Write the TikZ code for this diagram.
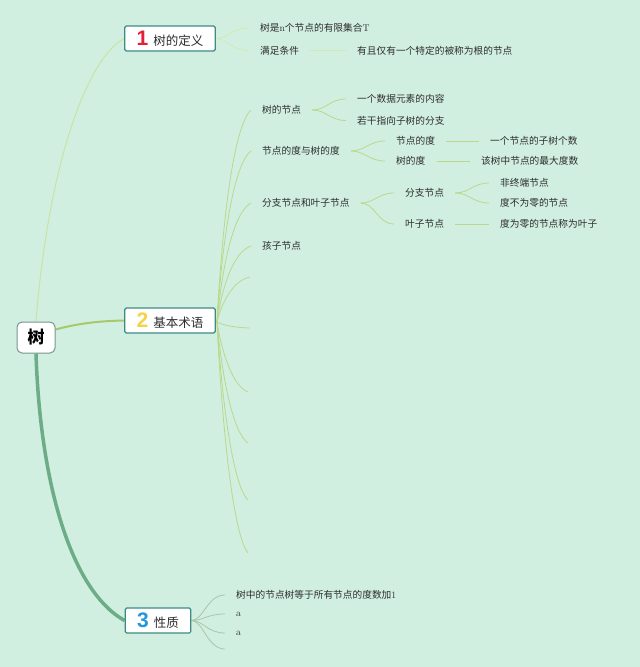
\documentclass[tikz,border=0pt]{standalone}
\usepackage{fontspec}
\newfontfamily\cjk{Noto Sans CJK SC}
\newfontfamily\numf{Liberation Sans}
\usetikzlibrary{backgrounds}
\definecolor{bg}{RGB}{209,239,225}
\definecolor{txt}{RGB}{45,45,45}
\definecolor{boxline}{RGB}{61,139,133}
\definecolor{rootline}{RGB}{120,150,140}
\definecolor{cone}{RGB}{226,32,56}
\definecolor{ctwo}{RGB}{244,212,70}
\definecolor{cthree}{RGB}{38,150,220}
\definecolor{lone}{RGB}{200,228,160}
\definecolor{ltwo}{RGB}{168,200,108}
\definecolor{lthree}{RGB}{108,172,134}
\definecolor{bone}{RGB}{210,234,178}
\definecolor{btwo}{RGB}{185,216,138}
\definecolor{bthree}{RGB}{168,198,168}
\newcommand\latn[1]{{\rmfamily #1}}
\newcommand\bignum[2]{{\numf\bfseries\fontsize{21}{21}\selectfont\color{#1}#2}\hspace{5pt}}
\newcommand\ttl[1]{{\cjk\fontsize{12.5}{14}\selectfont #1}}
\begin{document}
\begin{tikzpicture}[x=1pt,y=-1pt,
  rootbox/.style={draw=rootline, line width=1pt, fill=white, rounded corners=5pt,
    minimum width=38pt, minimum height=31pt, inner sep=0pt,
    font=\cjk\bfseries\fontsize{17}{18}\selectfont, text=black},
  titlebox/.style={draw=boxline, line width=1.2pt, fill=white, rounded corners=1.5pt,
    minimum height=25pt, inner xsep=12pt, inner ysep=0pt, text=txt},
  leaf/.style={font=\cjk\fontsize{9.7}{11}\selectfont, text=txt, inner xsep=11pt,
    inner ysep=2pt, anchor=west},
  brone/.style={draw=bone, line width=0.8pt},
  brtwo/.style={draw=btwo, line width=0.8pt},
  brthree/.style={draw=bthree, line width=0.8pt}
]
\begin{scope}[on background layer]
\fill[bg] (0,0) rectangle (640,667);
\end{scope}
\useasboundingbox (0,0) rectangle (640,667);

% main nodes
\node[rootbox] (root) at (36,337.5) {树};
\node[titlebox] (n1) at (170,38.5) {\bignum{cone}{1}\ttl{树的定义}};
\node[titlebox] (n2) at (170,320.5) {\bignum{ctwo}{2}\ttl{基本术语}};
\node[titlebox] (n3) at (158,620.5) {\bignum{cthree}{3}\ttl{性质}};
\coordinate (n2o) at (217,322);

% section 1
\node[leaf] (d1) at (249,28) {树是\latn{n}个节点的有限集合\latn{T}};
\node[leaf] (d2) at (249,50.5) {满足条件};
\node[leaf] (d3) at (346,50.5) {有且仅有一个特定的被称为根的节点};

% section 2
\node[leaf] (s1) at (251,110) {树的节点};
\node[leaf] (s1a) at (346,99) {一个数据元素的内容};
\node[leaf] (s1b) at (346,120.5) {若干指向子树的分支};
\node[leaf] (s2) at (251,151) {节点的度与树的度};
\node[leaf] (s2a) at (385,141) {节点的度};
\node[leaf] (s2b) at (385,161) {树的度};
\node[leaf] (s2a1) at (479,141) {一个节点的子树个数};
\node[leaf] (s2b1) at (470,161) {该树中节点的最大度数};
\node[leaf] (s3) at (251,203) {分支节点和叶子节点};
\node[leaf] (s3a) at (394,193) {分支节点};
\node[leaf] (s3b) at (394,224) {叶子节点};
\node[leaf] (s3a1) at (489,183) {非终端节点};
\node[leaf] (s3a2) at (489,203) {度不为零的节点};
\node[leaf] (s3b1) at (489,224) {度为零的节点称为叶子};
\node[leaf] (s4) at (251,246) {孩子节点};
\coordinate (c5) at (250,277);
\coordinate (c6) at (250,328);
\coordinate (c7) at (248,392);
\coordinate (c8) at (248,443);
\coordinate (c9) at (248,500);
\coordinate (c10) at (248,553);

% section 3
\node[leaf] (t1) at (225,595) {树中的节点树等于所有节点的度数加\latn{1}};
\node[leaf] (t2) at (225,614) {\latn{a}};
\node[leaf] (t3) at (225,633) {\latn{a}};
\coordinate (t4) at (225,649);

\begin{scope}[on background layer]
% root connectors
\draw[draw=lone, line width=1pt] (root.north) .. controls (48,170) and (85,60) .. (n1.west);
\draw[draw=ltwo, line width=2pt] ([yshift=8pt]root.east) .. controls (80,323) and (100,321) .. (n2.west);
\draw[draw=lthree, line width=3.5pt] (root.south) .. controls (40,480) and (70,590) .. (n3.west);

% section 1
\foreach \t in {d1,d2}
  \draw[brone] (n1.east) .. controls +(12,0) and +(-18,0) .. (\t.west);
\draw[brone] (d2.east) -- (d3.west);

% section 2
\draw[brtwo] (n2.east) -- (n2o);
\foreach \t/\ty in {s1.west/110,s2.west/151,s3.west/203,s4.west/246,c5/277,c6/328,c7/392,c8/443,c9/500,c10/553}
  \draw[brtwo] (n2o) .. controls (222,{322+(\ty-322)*0.45}) and (233,{\ty+(322-\ty)*0.08}) .. (\t);
\foreach \t in {s1a,s1b}
  \draw[brtwo] (s1.east) .. controls +(14,0) and +(-16,0) .. (\t.west);
\foreach \t in {s2a,s2b}
  \draw[brtwo] (s2.east) .. controls +(14,0) and +(-16,0) .. (\t.west);
\draw[brtwo] (s2a.east) -- (s2a1.west);
\draw[brtwo] (s2b.east) -- (s2b1.west);
\foreach \t in {s3a,s3b}
  \draw[brtwo] (s3.east) .. controls +(14,0) and +(-16,0) .. (\t.west);
\foreach \t in {s3a1,s3a2}
  \draw[brtwo] (s3a.east) .. controls +(14,0) and +(-16,0) .. (\t.west);
\draw[brtwo] (s3b.east) -- (s3b1.west);

% section 3
\foreach \t in {t1.west,t2.west,t3.west,t4}
  \draw[brthree] (n3.east) .. controls +(12,0) and +(-18,0) .. (\t);
\end{scope}
\end{tikzpicture}
\end{document}
